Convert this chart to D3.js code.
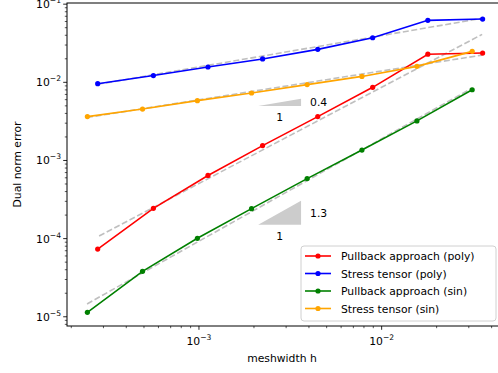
<!DOCTYPE html>
<html>
<head>
<meta charset="utf-8">
<script src="https://cdnjs.cloudflare.com/ajax/libs/d3/7.8.5/d3.min.js"></script>
<style>
    body { margin: 0; background: white; }
    svg { font-family: "DejaVu Sans", sans-serif; }
</style>
</head>
<body>
<svg id="chart" width="498" height="373"></svg>
<script>
    // mesh widths
    const hPoly = [2.79e-4, 5.63e-4, 1.12e-3, 2.23e-3, 4.47e-3, 8.93e-3, 1.79e-2, 3.57e-2];
    const hSin = [2.45e-4, 4.91e-4, 9.8e-4, 1.94e-3, 3.91e-3, 7.8e-3, 1.56e-2, 3.13e-2];

    // errors
    const pullbackPoly = [7.35e-5, 2.44e-4, 6.43e-4, 1.55e-3, 3.64e-3, 8.63e-3, 2.29e-2, 2.37e-2];
    const stressPoly = [9.6e-3, 1.22e-2, 1.57e-2, 1.99e-2, 2.64e-2, 3.72e-2, 6.21e-2, 6.45e-2];
    const pullbackSin = [1.14e-5, 3.81e-5, 1.01e-4, 2.42e-4, 5.86e-4, 1.36e-3, 3.21e-3, 8.03e-3];
    const stressSin = [3.64e-3, 4.55e-3, 5.83e-3, 7.30e-3, 9.35e-3, 1.19e-2, 1.60e-2, 2.49e-2];

    // fitted reference lines [h0, e0, h1, e1]
    const fitPullbackPoly = [2.84e-4, 1.08e-4, 3.55e-2, 4.11e-2];
    const fitStressPoly = [2.79e-4, 9.43e-3, 3.55e-2, 6.59e-2];
    const fitPullbackSin = [2.44e-4, 1.46e-5, 3.11e-2, 8.38e-3];
    const fitStressSin = [2.44e-4, 3.55e-3, 3.55e-2, 2.23e-2];

    // slope triangles: h0, h1, base error, slope
    const triangles = [
        { h0: 2.11e-3, h1: 3.62e-3, base: 4.98e-3, slope: 0.4, label: "0.4" },
        { h0: 2.11e-3, h1: 3.62e-3, base: 1.51e-4, slope: 1.3, label: "1.3" }
    ];

    const seriesNames = ["Pullback approach (poly)", "Stress tensor (poly)", "Pullback approach (sin)", "Stress tensor (sin)"];
    const seriesColors = ["red", "blue", "green", "orange"];

    const series = [
        { name: seriesNames[0], color: seriesColors[0], h: hPoly, e: pullbackPoly, fit: fitPullbackPoly },
        { name: seriesNames[1], color: seriesColors[1], h: hPoly, e: stressPoly, fit: fitStressPoly },
        { name: seriesNames[2], color: seriesColors[2], h: hSin, e: pullbackSin, fit: fitPullbackSin },
        { name: seriesNames[3], color: seriesColors[3], h: hSin, e: stressSin, fit: fitStressSin }
    ];

    const mLeft = 67, mRight = 497, mTop = 3, mBottom = 326;

    const svg = d3.select("#chart");

    const x = d3.scaleLog().domain([1.895e-4, 4.28e-2]).range([mLeft, mRight]);
    const y = d3.scaleLog().domain([7.62e-6, 1.035e-1]).range([mBottom, mTop]);

    // fit lines
    series.forEach(s => {
        svg.append("line")
            .attr("x1", x(s.fit[0])).attr("y1", y(s.fit[1]))
            .attr("x2", x(s.fit[2])).attr("y2", y(s.fit[3]))
            .attr("stroke", "#bfbfbf")
            .attr("stroke-width", 1.6)
            .attr("stroke-dasharray", "6,2.6");
    });

    // slope triangles
    triangles.forEach(t => {
        const topE = t.base * Math.pow(t.h1 / t.h0, t.slope);
        svg.append("path")
            .attr("d", `M${x(t.h0)},${y(t.base)}L${x(t.h1)},${y(t.base)}L${x(t.h1)},${y(topE)}Z`)
            .attr("fill", "#cccccc");
        svg.append("text")
            .attr("x", x(t.h1) + 9)
            .attr("y", (y(t.base) + y(topE)) / 2 + 4)
            .attr("font-size", 10.8)
            .text(t.label);
        svg.append("text")
            .attr("x", x(Math.sqrt(t.h0 * t.h1)))
            .attr("y", y(t.base) + 15)
            .attr("text-anchor", "middle")
            .attr("font-size", 10.8)
            .text("1");
    });

    // data lines
    const line = d3.line().x(d => x(d[0])).y(d => y(d[1]));
    series.forEach(s => {
        const pts = s.h.map((h, i) => [h, s.e[i]]);
        svg.append("path")
            .attr("d", line(pts))
            .attr("fill", "none")
            .attr("stroke", s.color)
            .attr("stroke-width", 1.6);
        svg.selectAll(null).data(pts).join("circle")
            .attr("cx", d => x(d[0])).attr("cy", d => y(d[1]))
            .attr("r", 2.6)
            .attr("fill", s.color);
    });

    // frame
    svg.append("rect")
        .attr("x", mLeft).attr("y", mTop)
        .attr("width", mRight - mLeft + 1.5).attr("height", mBottom - mTop)
        .attr("fill", "none").attr("stroke", "black").attr("stroke-width", 1);

    function sup(sel, d) {
        const p = Math.round(Math.log10(d));
        sel.text(null);
        sel.append("tspan").text("10");
        sel.append("tspan").attr("dy", -5).attr("font-size", 7.6).text("\u2212" + Math.abs(p));
    }

    // x ticks
    const xMajor = [1e-3, 1e-2];
    const xMinor = [];
    [1e-4, 1e-3, 1e-2].forEach(b => { for (let k = 2; k <= 9; k++) { const v = k * b; if (v >= x.domain()[0] && v <= x.domain()[1]) xMinor.push(v); } });
    svg.selectAll(null).data(xMinor).join("line")
        .attr("x1", d => x(d)).attr("x2", d => x(d))
        .attr("y1", mBottom).attr("y2", mBottom + 2.2)
        .attr("stroke", "black").attr("stroke-width", 0.65);
    svg.selectAll(null).data(xMajor).join("line")
        .attr("x1", d => x(d)).attr("x2", d => x(d))
        .attr("y1", mBottom).attr("y2", mBottom + 3.8)
        .attr("stroke", "black").attr("stroke-width", 0.85);
    svg.selectAll(null).data(xMajor).join("text")
        .attr("x", d => x(d)).attr("y", mBottom + 19)
        .attr("text-anchor", "middle").attr("font-size", 10.8)
        .each(function (d) { sup(d3.select(this), d); });

    // y ticks
    const yMajor = [1e-5, 1e-4, 1e-3, 1e-2, 1e-1];
    const yMinor = [];
    [1e-6, 1e-5, 1e-4, 1e-3, 1e-2].forEach(b => { for (let k = 2; k <= 9; k++) { const v = k * b; if (v >= y.domain()[0] && v <= y.domain()[1]) yMinor.push(v); } });
    svg.selectAll(null).data(yMinor).join("line")
        .attr("x1", mLeft - 2.2).attr("x2", mLeft)
        .attr("y1", d => y(d)).attr("y2", d => y(d))
        .attr("stroke", "black").attr("stroke-width", 0.65);
    svg.selectAll(null).data(yMajor).join("line")
        .attr("x1", mLeft - 3.8).attr("x2", mLeft)
        .attr("y1", d => y(d)).attr("y2", d => y(d))
        .attr("stroke", "black").attr("stroke-width", 0.85);
    svg.selectAll(null).data(yMajor).join("text")
        .attr("x", mLeft - 6).attr("y", d => y(d) + 4)
        .attr("text-anchor", "end").attr("font-size", 10.8)
        .each(function (d) { sup(d3.select(this), d); });

    // axis labels
    svg.append("text")
        .attr("x", (mLeft + mRight) / 2).attr("y", 362)
        .attr("text-anchor", "middle").attr("font-size", 10.8)
        .text("meshwidth h");
    svg.append("text")
        .attr("transform", `translate(21,${(mTop + mBottom) / 2}) rotate(-90)`)
        .attr("text-anchor", "middle").attr("font-size", 10.8)
        .text("Dual norm error");

    // legend
    const lg = svg.append("g").attr("transform", "translate(301,246)");
    lg.append("rect")
        .attr("width", 195).attr("height", 75).attr("rx", 3)
        .attr("fill", "white").attr("fill-opacity", 0.8)
        .attr("stroke", "#d0d0d0").attr("stroke-width", 1);
    series.forEach((s, i) => {
        const yy = 10 + i * 17.5;
        lg.append("line").attr("x1", 4).attr("x2", 30).attr("y1", yy).attr("y2", yy)
            .attr("stroke", s.color).attr("stroke-width", 1.6);
        lg.append("circle").attr("cx", 17).attr("cy", yy).attr("r", 2.6).attr("fill", s.color);
        lg.append("text").attr("x", 40).attr("y", yy + 4).attr("font-size", 10.8).text(s.name);
    });
</script>
</body>
</html>
